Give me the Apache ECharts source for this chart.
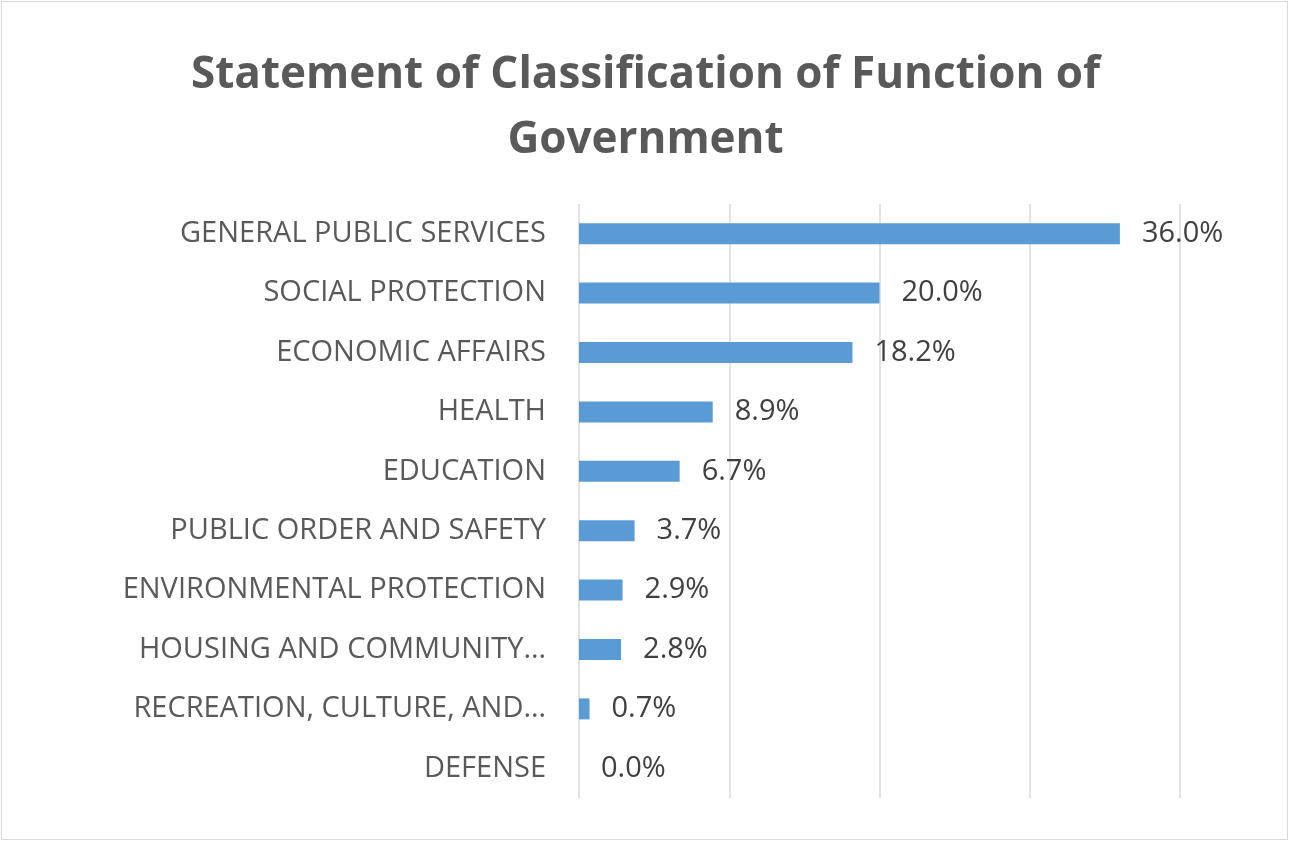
<!DOCTYPE html>
<html>
<head>
<meta charset="utf-8">
<script src="https://cdn.jsdelivr.net/npm/echarts@6/dist/echarts.min.js"></script>
<style>
html,body{margin:0;padding:0;background:#fff;}
#wrap{position:absolute;left:1px;top:1px;width:1287px;height:839px;border:1px solid #d9d9d9;box-sizing:border-box;}
#chart{width:1291px;height:843px;position:absolute;left:0;top:0;}
</style>
</head>
<body>
<div id="wrap"></div>
<div id="chart"></div>
<script>
const categories = ["GENERAL PUBLIC SERVICES","SOCIAL PROTECTION","ECONOMIC AFFAIRS","HEALTH","EDUCATION","PUBLIC ORDER AND SAFETY","ENVIRONMENTAL PROTECTION","HOUSING AND COMMUNITY…","RECREATION, CULTURE, AND…","DEFENSE"];
const values = [36.0, 20.0, 18.2, 8.9, 6.7, 3.7, 2.9, 2.8, 0.7, 0.0];
const titleText = "Statement of Classification of Function of\nGovernment";

const chart = echarts.init(document.getElementById('chart'));
chart.setOption({
  animation: false,
  title: {
    text: titleText,
    left: 'center',
    top: 38,
    textStyle: {fontFamily: 'Open Sans', fontWeight: 'bold', fontSize: 44, color: '#595959', lineHeight: 65}
  },
  grid: {left: 579, right: 111, top: 204, bottom: 45, containLabel: false},
  xAxis: {
    type: 'value', min: 0, max: 40, interval: 10,
    axisLabel: {show: false}, axisLine: {show: false}, axisTick: {show: false},
    splitLine: {show: true, lineStyle: {color: '#d9d9d9', width: 1.5}}
  },
  yAxis: {
    type: 'category', data: categories, inverse: true,
    axisLine: {show: false}, axisTick: {show: false},
    axisLabel: {fontFamily: 'Open Sans', fontSize: 29, color: '#595959', margin: 33, padding: [4, 0, 0, 0]}
  },
  series: [{
    type: 'bar', data: values, barWidth: 21,
    itemStyle: {color: '#5B9BD5'},
    label: {show: true, position: 'right', distance: 22, fontFamily: 'Open Sans', fontSize: 29, color: '#404040',
      padding: [4, 0, 0, 0],
      formatter: p => p.value.toFixed(1) + '%'}
  }]
});
</script>
</body>
</html>
